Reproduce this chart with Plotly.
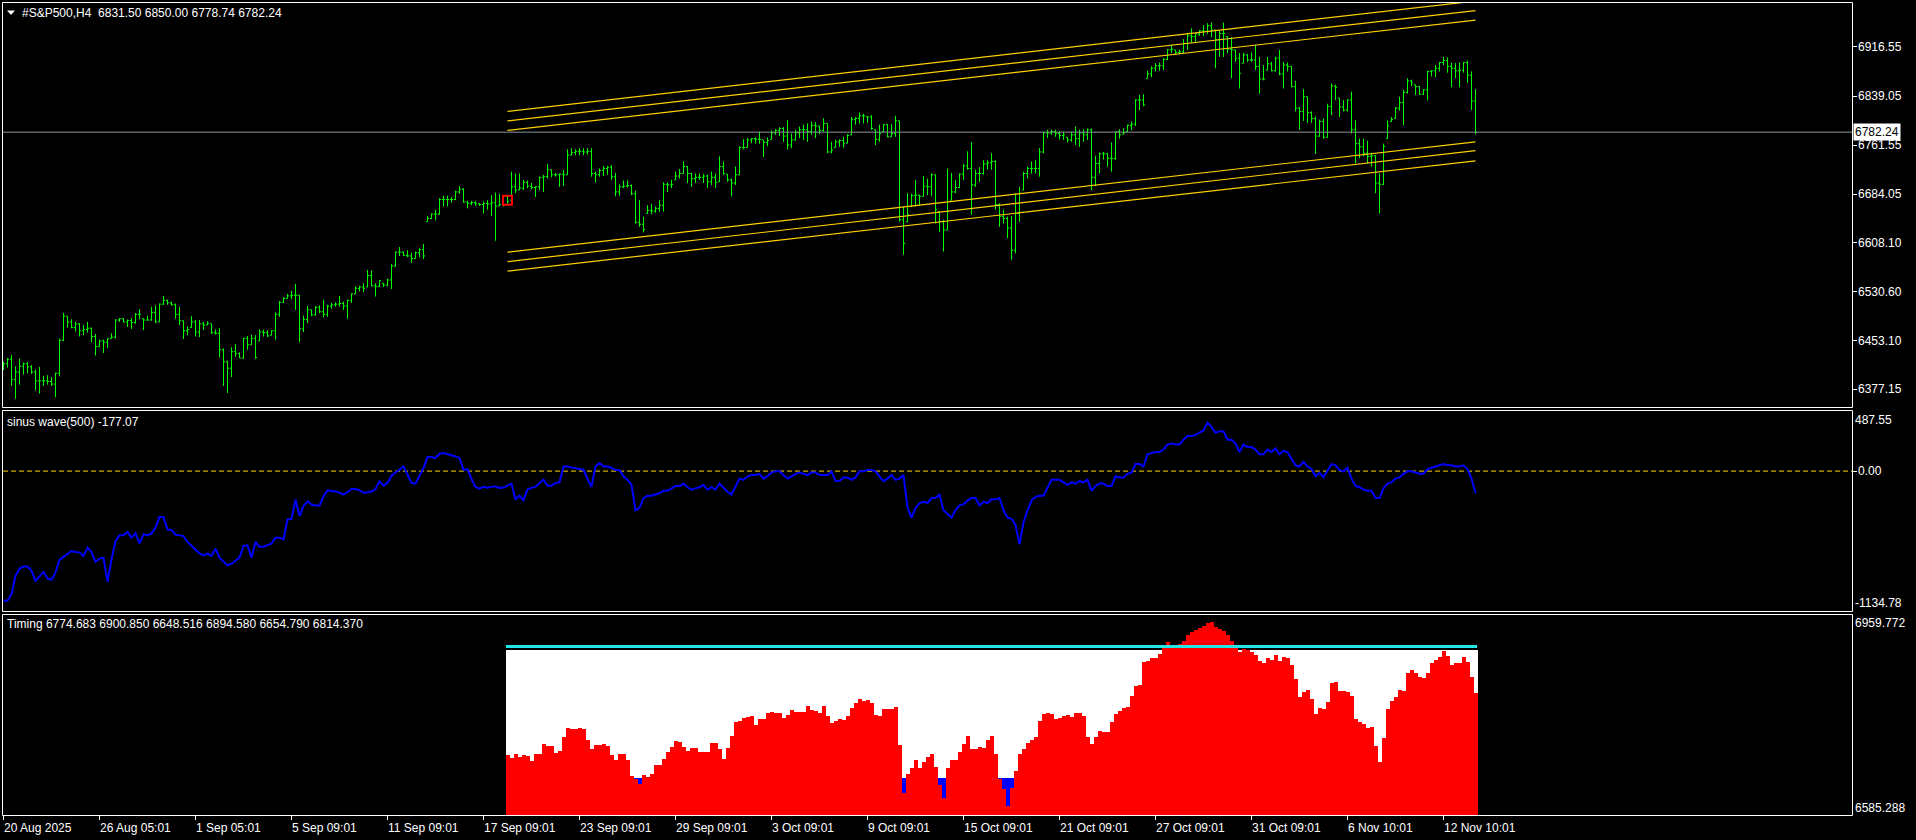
import plotly.graph_objects as go

# ---------------- data ----------------
HIGH = [
6420,6426,6431,6413,6425,6419,6420,6415,6408,6412,
6398,6399,6396,6403,6457,6497,6492,6487,6483,6481,
6478,6483,6474,6464,6455,6455,6457,6465,6487,6489,
6489,6487,6489,6497,6503,6488,6493,6507,6509,6512,
6524,6518,6515,6512,6507,6485,6476,6492,6486,6486,
6483,6484,6480,6471,6473,6441,6422,6443,6448,6435,
6458,6461,6463,6462,6471,6471,6470,6470,6498,6516,
6522,6527,6532,6543,6525,6493,6508,6502,6508,6509,
6518,6510,6513,6514,6524,6515,6518,6528,6539,6540,
6544,6565,6564,6544,6549,6544,6551,6574,6594,6601,
6594,6596,6592,6594,6599,6606,6650,6654,6660,6678,
6682,6682,6680,6690,6697,6694,6674,6674,6674,6670,
6673,6675,6683,6687,6685,6683,6683,6720,6717,6717,
6707,6706,6702,6697,6712,6715,6732,6723,6718,6717,
6723,6755,6757,6755,6757,6757,6757,6757,6720,6725,
6729,6729,6730,6718,6700,6706,6706,6700,6690,6675,
6649,6667,6669,6665,6675,6703,6703,6707,6720,6724,
6736,6728,6718,6717,6717,6716,6715,6720,6717,6744,
6736,6716,6709,6728,6760,6771,6773,6773,6774,6783,
6770,6774,6785,6787,6790,6790,6801,6780,6786,6791,
6794,6796,6799,6798,6792,6804,6796,6767,
6770,6771,6775,6779,6806,6806,6813,6811,6807,6809,
6786,6794,6795,6795,6795,6808,6800,6665,6686,6685,
6707,6683,6713,6709,6717,6715,6657,6644,6725,6718,
6707,6717,6732,6752,6767,6723,6727,6738,6738,6749,
6738,6670,6660,6649,6650,6686,6696,6720,6728,6736,
6738,6757,6783,6786,6786,6786,6784,6783,6774,6783,6791,6786,
6787,6788,6788,6745,6750,6751,6749,6766,6783,6787,
6788,6794,6799,6834,6841,6842,6879,6886,6891,6892,
6899,6913,6920,6912,6912,6929,6939,6946,6938,6943,
6951,6954,6955,6944,6942,6955,6933,6932,6912,6907,
6907,6905,6908,6920,6901,6888,6901,6893,6901,6912,
6893,6892,6886,6863,6822,6850,6838,6815,6807,6802,
6804,6827,6859,6857,6836,6833,6834,6846,6801,6772,
6772,6769,6750,6746,6717,6764,6801,6806,6822,6838,
6849,6867,6865,6857,6855,6850,6879,6880,6888,6893,
6901,6900,6892,6891,6892,6893,6895,6878,6850.00]

LOW = [
6407,6411,6382,6362,6384,6400,6402,6401,6375,6370,
6382,6384,6382,6364,6397,6453,6474,6473,6468,6460,
6462,6466,6451,6430,6444,6434,6442,6457,6457,6483,
6482,6475,6472,6480,6487,6470,6485,6485,6481,6483,
6510,6510,6509,6488,6478,6456,6462,6474,6460,6459,
6470,6478,6464,6463,6427,6382,6371,6396,6428,6426,
6425,6439,6447,6425,6453,6460,6459,6462,6455,6491,
6513,6520,6519,6502,6451,6467,6481,6492,6493,6497,
6490,6491,6504,6507,6507,6502,6488,6513,6527,6531,
6530,6538,6539,6523,6538,6538,6539,6535,6570,6587,
6587,6585,6576,6583,6585,6582,6641,6645,6643,6652,
6665,6665,6671,6675,6685,6671,6662,6667,6666,6666,
6654,6660,6650,6611,6666,6665,6667,6675,6686,6691,
6691,6694,6692,6680,6691,6688,6709,6711,6712,6696,
6697,6715,6746,6746,6746,6746,6747,6712,6703,6712,
6713,6715,6707,6681,6682,6694,6695,6683,6638,6633,
6624,6654,6653,6655,6657,6657,6688,6694,6707,6709,
6717,6702,6696,6702,6707,6702,6694,6699,6694,6704,
6715,6704,6681,6699,6715,6755,6758,6765,6764,6764,
6743,6760,6771,6778,6776,6767,6755,6757,6769,6773,
6770,6767,6778,6773,6779,6783,6749,6749,
6758,6759,6758,6765,6778,6794,6796,6796,6797,6786,
6762,6767,6783,6774,6775,6775,6641,6589,6641,6665,
6665,6667,6681,6683,6681,6638,6625,6594,6628,6675,
6686,6694,6707,6723,6652,6696,6704,6715,6723,6723,
6660,6633,6638,6615,6581,6591,6641,6691,6709,6717,
6717,6712,6749,6773,6778,6775,6771,6770,6766,6767,6762,6759,
6767,6770,6691,6697,6717,6739,6728,6720,6738,6772,
6779,6783,6785,6792,6817,6823,6867,6869,6878,6879,
6880,6896,6907,6904,6906,6907,6912,6923,6925,6934,
6934,6937,6932,6883,6901,6901,6907,6867,6893,6851,
6891,6893,6893,6880,6843,6864,6880,6878,6878,6872,
6851,6878,6853,6815,6786,6800,6797,6797,6748,6775,
6772,6774,6809,6833,6806,6815,6815,6780,6733,6741,
6744,6733,6728,6686,6654,6699,6772,6799,6804,6816,
6793,6843,6855,6841,6841,6841,6832,6870,6869,6878,
6888,6876,6853,6867,6853,6876,6860,6817,6778.74]

CLOSE = [
6417,6424,6392,6404,6413,6417,6412,6404,6390,6390,
6390,6389,6385,6402,6454,6492,6483,6474,6480,6469,
6471,6473,6460,6444,6453,6451,6456,6459,6486,6488,
6483,6485,6482,6495,6495,6486,6486,6498,6483,6511,
6517,6513,6510,6495,6485,6469,6471,6483,6467,6480,
6478,6481,6466,6465,6439,6420,6410,6436,6433,6426,
6457,6447,6457,6427,6467,6466,6461,6469,6495,6514,
6520,6524,6525,6525,6472,6487,6502,6494,6506,6499,
6495,6508,6510,6511,6512,6508,6517,6527,6536,6538,
6536,6556,6540,6539,6548,6541,6549,6571,6593,6593,
6588,6587,6583,6592,6597,6587,6646,6653,6653,6676,
6676,6676,6676,6688,6692,6672,6670,6671,6669,6668,
6670,6669,6671,6666,6668,6681,6673,6696,6691,6694,
6703,6697,6695,6696,6711,6712,6723,6715,6715,6716,
6715,6746,6750,6752,6752,6751,6752,6717,6715,6722,
6725,6727,6712,6688,6696,6697,6698,6685,6640,6637,
6629,6659,6658,6662,6667,6700,6699,6700,6713,6717,
6728,6717,6709,6711,6711,6713,6704,6711,6703,6728,
6717,6707,6702,6715,6758,6758,6770,6772,6771,6771,
6766,6769,6781,6785,6788,6776,6762,6770,6781,6786,
6786,6783,6793,6792,6785,6796,6751,6754,
6767,6769,6765,6777,6802,6804,6808,6808,6806,6788,
6771,6780,6794,6775,6780,6800,6644,6607,6652,6682,
6683,6681,6697,6696,6715,6660,6641,6628,6657,6688,
6695,6716,6729,6725,6699,6717,6717,6732,6734,6736,
6668,6649,6646,6631,6596,6654,6686,6717,6725,6725,
6725,6751,6781,6781,6783,6780,6777,6778,6770,6778,6772,6781,
6778,6786,6711,6733,6748,6748,6741,6741,6783,6778,
6781,6793,6795,6833,6833,6825,6874,6883,6887,6887,
6897,6912,6913,6908,6909,6922,6934,6933,6937,6942,
6941,6950,6943,6928,6938,6938,6913,6912,6899,6875,
6904,6896,6896,6886,6866,6866,6890,6879,6899,6874,
6888,6886,6854,6820,6815,6838,6813,6804,6776,6799,
6774,6823,6855,6853,6822,6817,6833,6786,6764,6759,
6749,6744,6745,6702,6700,6760,6792,6802,6820,6829,
6845,6863,6860,6854,6842,6849,6878,6879,6883,6892,
6895,6886,6883,6879,6880,6892,6872,6831,6782.24]

OPEN_LAST = 6831.50   # open of the last bar, from the header

SINUS = [
-1051,-1051,-997,-850,-790,-774,-774,-809,-890,-855,
-817,-871,-882,-822,-720,-696,-675,-648,-656,-661,
-688,-621,-656,-737,-710,-702,-898,-715,-567,-521,
-521,-494,-540,-505,-586,-513,-521,-505,-459,-371,
-376,-473,-478,-516,-521,-527,-575,-607,-640,-667,
-683,-667,-688,-629,-702,-737,-764,-753,-729,-702,
-607,-602,-702,-575,-613,-613,-602,-586,-540,-540,
-554,-392,-387,-231,-365,-284,-244,-271,-279,-279,
-204,-155,-163,-163,-177,-190,-171,-145,-145,-155,
-177,-171,-166,-145,-83,-118,-96,-37,-10,17,
38,-29,-96,-102,-37,25,114,114,106,141,
146,138,130,119,106,11,17,-64,-128,-142,
-128,-134,-128,-123,-136,-134,-118,-102,-231,-198,
-236,-150,-136,-128,-96,-69,-118,-118,-96,-91,
38,38,28,22,11,11,-64,-128,38,65,
37,37,27,8,8,-42,-71,-111,-318,-298,
-219,-200,-200,-190,-180,-160,-160,-140,-121,-121,
-101,-131,-150,-140,-131,-111,-150,-131,-150,-101,
-140,-170,-190,-131,-61,-71,-42,-32,-32,-22,
-61,-42,-12,-2,-2,-32,-61,-42,-22,-12,
-22,-32,-12,-12,-32,-32,-32,-2,-81,-81,
-51,-51,-71,-51,-2,-2,8,8,-2,-42,
-81,-61,-32,-71,-61,-32,-298,-377,-298,-259,
-249,-259,-219,-219,-190,-318,-348,-377,-318,-278,
-269,-239,-219,-219,-278,-249,-259,-229,-229,-219,
-318,-377,-387,-436,-594,-416,-318,-239,-209,-200,
-200,-140,-71,-71,-71,-91,-111,-91,-101,-81,
-91,-71,-160,-121,-101,-101,-121,-121,-42,-51,
-51,-22,-12,57,57,37,136,146,155,155,
175,215,224,215,215,254,284,284,293,313,
330,392,360,310,323,323,254,254,224,155,
215,195,195,175,136,136,175,155,185,136,
165,155,106,47,37,76,37,17,-42,-12,
-51,8,57,47,8,-2,27,-61,-121,-131,
-150,-160,-160,-219,-219,-140,-101,-91,-61,-51,
-22,-2,-2,-12,-22,-22,17,27,37,47,
57,47,47,37,37,47,17,-61,-177.07]

TIMING_START = 126
TIMING_RED = [
6697,6692,6700,6694,6697,6695,6686,6700,6699,6718,
6714,6714,6702,6706,6732,6749,6747,6747,6749,6747,
6726,6708,6716,6716,6719,6714,6697,6688,6699,6699,
6689,6658,6652,6644,6660,6657,6663,6678,6678,6691,
6703,6713,6723,6722,6713,6705,6710,6710,6703,6703,
6703,6721,6721,6708,6691,6710,6734,6760,6762,6767,
6769,6770,6753,6765,6765,6777,6779,6776,6776,6766,
6773,6781,6778,6778,6778,6790,6781,6780,6777,6790,
6770,6757,6762,6765,6764,6770,6786,6795,6802,6798,
6800,6795,6773,6770,6784,6783,6784,6788,6717,6627,
6662,6674,6688,6673,6684,6694,6700,6675,6641,6618,
6673,6689,6689,6703,6718,6734,6709,6709,6713,6711,
6725,6733,6700,6652,6634,6603,6636,6667,6700,6708,
6720,6726,6731,6762,6774,6776,6774,6765,6767,6771,
6772,6769,6777,6776,6771,6731,6719,6731,6742,6740,
6740,6759,6775,6780,6786,6788,6809,6826,6829,6871,
6873,6879,6880,6887,6902,6909,6904,6902,
6906,6912,6922,6928,6932,6936,6940,6944,6946,6938,
6934,6930,6922,6912,6902,6890,6896,6894,6890,6884,
6874,6870,6880,6876,6885,6874,6882,6880,6866,6840,6806,
6815,6819,6803,6775,6786,6784,6796,6832,6835,6818,
6818,6816,6809,6765,6760,6755,6749,6751,6714,6684,
6729,6783,6799,6807,6819,6818,6852,6857,6852,6844,
6841,6852,6870,6875,6882,6893,6883,6867,6870,6869,
6882,6872,6844,6814.37]
TIMING_WHITE = 6894.58
TIMING_BLUE = 6654.79
TIMING_CYAN = 6900.85

CHANNEL_BARS = [126, 368]
CH_UPPER = [(6815, 6989), (6800, 6974), (6785, 6959)]
CH_LOWER = [(6593, 6767), (6578, 6753), (6563, 6737)]

MARK_BAR, MARK_PRICE = 126, 6675
LAST_PRICE = 6782.24

PRICE_TICKS = [6916.55, 6839.05, 6761.55, 6684.05, 6608.10, 6530.60, 6453.10, 6377.15]
PRICE_TICK_TEXT = ["6916.55", "6839.05", "6761.55", "6684.05", "6608.10", "6530.60", "6453.10", "6377.15"]
SINUS_RANGE = (-1134.78, 487.55)
TIMING_RANGE = (6585.288, 6959.772)
PRICE_RANGE = (6348.8, 6985.9)

DATE_BARS = [0, 24, 48, 72, 96, 120, 144, 168, 192, 216, 240, 264, 288, 312, 336, 360]
DATE_LABELS = ["20 Aug 2025", "26 Aug 05:01", "1 Sep 05:01", "5 Sep 09:01", "11 Sep 09:01",
               "17 Sep 09:01", "23 Sep 09:01", "29 Sep 09:01", "3 Oct 09:01", "9 Oct 09:01",
               "15 Oct 09:01", "21 Oct 09:01", "27 Oct 09:01", "31 Oct 09:01", "6 Nov 10:01",
               "12 Nov 10:01"]

HEADER = "#S&P500,H4\u00a0\u00a06831.50 6850.00 6778.74 6782.24"
SINUS_TITLE = "sinus wave(500) -177.07"
TIMING_TITLE = "Timing 6774.683 6900.850 6648.516 6894.580 6654.790 6814.370"

# ---------------- derived ----------------
N = len(CLOSE)
bars = list(range(N))
OPEN = []
for i in range(N):
    o = CLOSE[i - 1] if i > 0 else CLOSE[0]
    o = min(max(o, LOW[i]), HIGH[i])
    OPEN.append(o)
OPEN[-1] = OPEN_LAST

tbars = list(range(TIMING_START, TIMING_START + len(TIMING_RED)))

# ---------------- geometry helpers ----------------
W, H = 1916, 840
def fx(x):
    return x / W
def fy(y):
    return 1 - y / H

GREEN = "#00FF00"
GOLD = "#FFD000"
FONT = "Liberation Sans"

fig = go.Figure()

fig.add_trace(go.Ohlc(
    x=bars, open=OPEN, high=HIGH, low=LOW, close=CLOSE,
    increasing=dict(line=dict(color=GREEN, width=1)),
    decreasing=dict(line=dict(color=GREEN, width=1)),
    tickwidth=0.4, xaxis="x", yaxis="y", hoverinfo="skip"))

for (a, b) in CH_UPPER + CH_LOWER:
    fig.add_trace(go.Scatter(x=CHANNEL_BARS, y=[a, b], mode="lines",
                             line=dict(color=GOLD, width=1.2), xaxis="x", yaxis="y",
                             hoverinfo="skip"))

fig.add_trace(go.Scatter(x=[MARK_BAR], y=[MARK_PRICE], mode="markers",
                         marker=dict(symbol="square-open", size=9, color="#FF0000",
                                     line=dict(width=2, color="#FF0000")),
                         xaxis="x", yaxis="y", hoverinfo="skip"))

fig.add_trace(go.Scatter(x=bars, y=SINUS, mode="lines",
                         line=dict(color="#0000FF", width=2), xaxis="x2", yaxis="y2",
                         hoverinfo="skip"))

fig.add_trace(go.Bar(x=tbars, y=[TIMING_WHITE] * len(tbars), width=1,
                     marker=dict(color="#FFFFFF", line=dict(width=0)),
                     xaxis="x3", yaxis="y3", hoverinfo="skip"))
fig.add_trace(go.Bar(x=tbars, y=[TIMING_BLUE] * len(tbars), width=1,
                     marker=dict(color="#0000FF", line=dict(width=0)),
                     xaxis="x3", yaxis="y3", hoverinfo="skip"))
fig.add_trace(go.Scatter(x=[tbars[0] - 0.4, tbars[-1] + 0.4], y=[TIMING_CYAN, TIMING_CYAN],
                         mode="lines", line=dict(color="#22E6E6", width=3),
                         xaxis="x3", yaxis="y3", hoverinfo="skip"))
fig.add_trace(go.Bar(x=tbars, y=TIMING_RED, width=1,
                     marker=dict(color="#FF0000", line=dict(width=0)),
                     xaxis="x3", yaxis="y3", hoverinfo="skip"))

XR = [-0.375, 462.125]
xcommon = dict(domain=[fx(2), fx(1852)], range=XR, showgrid=False, zeroline=False,
               showticklabels=False, showline=False, fixedrange=True, automargin=False)
ycommon = dict(showgrid=False, zeroline=False, showline=False, showticklabels=False,
               side="right", fixedrange=True, automargin=False)

shapes = []
for (y0, y1) in [(2.5, 407.5), (410.5, 611.5), (614.5, 815.5)]:
    shapes.append(dict(type="rect", xref="paper", yref="paper",
                       x0=fx(2.5), x1=fx(1852.5), y0=fy(y1), y1=fy(y0),
                       line=dict(color="white", width=1), fillcolor="rgba(0,0,0,0)",
                       layer="above"))
shapes.append(dict(type="line", xref="paper", yref="y", x0=fx(3), x1=fx(1852),
                   y0=LAST_PRICE, y1=LAST_PRICE, line=dict(color="#8C949E", width=1),
                   layer="above"))
shapes.append(dict(type="line", xref="paper", yref="y2", x0=fx(3), x1=fx(1852),
                   y0=0, y1=0, line=dict(color="#FFD700", width=1, dash="5px,3px"),
                   layer="below"))
shapes.append(dict(type="path", xref="paper", yref="paper",
                   path="M {} {} L {} {} L {} {} Z".format(fx(7), fy(10.5), fx(15), fy(10.5),
                                                          fx(11), fy(15)),
                   fillcolor="white", line=dict(color="white", width=0)))

ann = []
def label(text, x, y, yref="paper", xanchor="left", yshift=0, color="white", bg=None, size=12):
    d = dict(text=text, x=x, y=y, xref="paper", yref=yref, xanchor=xanchor,
             yanchor="middle", showarrow=False, yshift=yshift,
             font=dict(family=FONT, size=size, color=color), borderpad=1)
    if bg:
        d["bgcolor"] = bg
    ann.append(d)

label(HEADER, fx(20), fy(13))
label(SINUS_TITLE, fx(5), fy(422))
label(TIMING_TITLE, fx(5), fy(624))

for v, t in zip(PRICE_TICKS, PRICE_TICK_TEXT):
    label(t, fx(1856), v, yref="y")
label("6782.24", fx(1853), LAST_PRICE, yref="y", color="black", bg="white")

label("487.55", fx(1853), SINUS_RANGE[1], yref="y2", yshift=-9)
label("0.00", fx(1856), 0, yref="y2")
label("-1134.78", fx(1853), SINUS_RANGE[0], yref="y2", yshift=8)
label("6959.772", fx(1853), TIMING_RANGE[1], yref="y3", yshift=-8)
label("6585.288", fx(1853), TIMING_RANGE[0], yref="y3", yshift=7)

for b, t in zip(DATE_BARS, DATE_LABELS):
    ann.append(dict(text=t, x=b, y=fy(828), xref="x3", yref="paper", xanchor="left",
                    yanchor="middle", showarrow=False, xshift=-2,
                    font=dict(family=FONT, size=12, color="white")))

fig.update_layout(
    template="none",
    width=W, height=H, margin=dict(l=0, r=0, t=0, b=0, pad=0),
    paper_bgcolor="black", plot_bgcolor="black", showlegend=False,
    barmode="overlay", bargap=0,
    xaxis=dict(**xcommon, anchor="y", rangeslider=dict(visible=False)),
    xaxis2=dict(**xcommon, anchor="y2"),
    xaxis3=dict(**xcommon, anchor="y3", ticks="outside",
                tickvals=DATE_BARS, ticklen=4, tickcolor="white", tickwidth=1),
    yaxis=dict(**ycommon, domain=[fy(407), fy(3)], range=list(PRICE_RANGE), anchor="x",
               ticks="outside", tickvals=PRICE_TICKS, ticklen=4, tickcolor="white", tickwidth=1),
    yaxis2=dict(**ycommon, domain=[fy(611), fy(411)], range=list(SINUS_RANGE), anchor="x2",
                ticks="outside", tickvals=[0], ticklen=4, tickcolor="white", tickwidth=1),
    yaxis3=dict(**ycommon, domain=[fy(815), fy(615)], range=list(TIMING_RANGE), anchor="x3"),
    shapes=shapes, annotations=ann,
)

fig.write_html("out.html", include_plotlyjs=True, full_html=True,
               config={"displayModeBar": False, "staticPlot": True},
               post_script="document.body.style.margin='0';document.body.style.background='#000';document.body.style.overflow='hidden';")
